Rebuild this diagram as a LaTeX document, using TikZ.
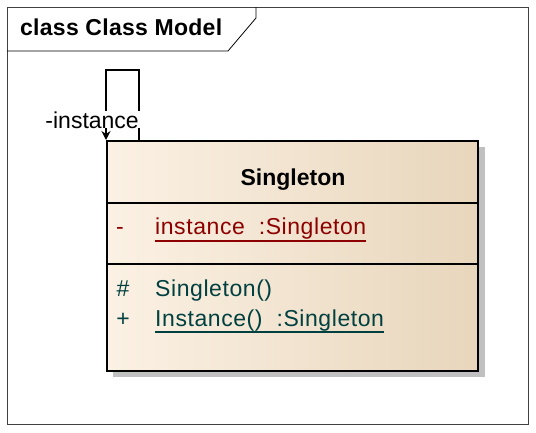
\documentclass[tikz,border=0pt]{standalone}
\usepackage{fontspec}
\setmainfont{Liberation Sans}
\usetikzlibrary{arrows.meta}

\definecolor{attrred}{RGB}{140,0,0}
\definecolor{opteal}{RGB}{0,64,64}
\definecolor{boxlight}{RGB}{251,241,228}
\definecolor{boxdark}{RGB}{232,214,188}
\definecolor{shadowgrey}{RGB}{192,192,192}

\newfontfamily\spacedfont[LetterSpace=2.5]{Liberation Sans}
\newfontfamily\titlefont[LetterSpace=1.2]{Liberation Sans}

\tikzset{
  member/.style={anchor=base west, inner sep=0pt, font=\fontsize{23}{28}\spacedfont},
  sign/.style={anchor=base, inner sep=0pt},
  sepline/.style={line width=1.6pt},
}

\begin{document}
\begin{tikzpicture}[x=1pt, y=-1pt, >=latex, font=\fontsize{23}{28}\selectfont]
\useasboundingbox (0,0) rectangle (536,432);

% Frame and title tab
\draw[line width=0.8pt, black!75] (7,7) rectangle (528,424);
\draw[line width=0.8pt] (7,51) -- (228,51) -- (256,18) -- (256,7);
\node[anchor=base west, inner sep=0pt, font=\fontsize{23}{28}\titlefont] (frametitle) at (20,35) {\textbf{class Class Model}};

% Class box with shadow
\fill[shadowgrey] (113,147) rectangle (485,377);
\node[draw, line width=1.8pt, shading=axis, left color=boxlight, right color=boxdark,
      minimum width=371pt, minimum height=230pt, inner sep=0pt, anchor=north west]
      (singleton) at (106,140) {};
\node[anchor=base, inner sep=0pt] (clsname) at (293,185) {\textbf{Singleton}};

% Compartments
\draw[sepline] (106,203) -- (477,203);
\draw[sepline] (106,264) -- (479,264);

% Attribute
\node[sign, text=attrred] (attrsign) at (120,234) {-};
\node[member, text=attrred] (attr) at (155,234) {instance\ \ :Singleton};
\draw[attrred, line width=1.4pt] ([yshift=-7pt]attr.base west) -- ([yshift=-7pt]attr.base east);

% Operations
\node[sign, text=opteal] (ctorsign) at (123,296) {\#};
\node[member, text=opteal] (ctor) at (155,296) {Singleton()};
\node[sign, text=opteal] (instsign) at (123,326) {+};
\node[member, text=opteal] (inst) at (155,326) {Instance()\ \ :Singleton};
\draw[opteal, line width=1.4pt] ([yshift=-6pt]inst.base west) -- ([yshift=-6pt]inst.base east);

% Self association
\coordinate (loopstart) at (139,140);
\coordinate (loopend) at (singleton.north west);
\draw[line width=1.6pt, -{Stealth[length=9pt,width=9pt]}]
  (loopstart) -- (139,70) -- (106,70) -- (loopend);
\node[fill=white, anchor=base east, inner xsep=1pt, inner ysep=0pt] (rolelabel) at (140,128) {-instance};

\end{tikzpicture}
\end{document}
